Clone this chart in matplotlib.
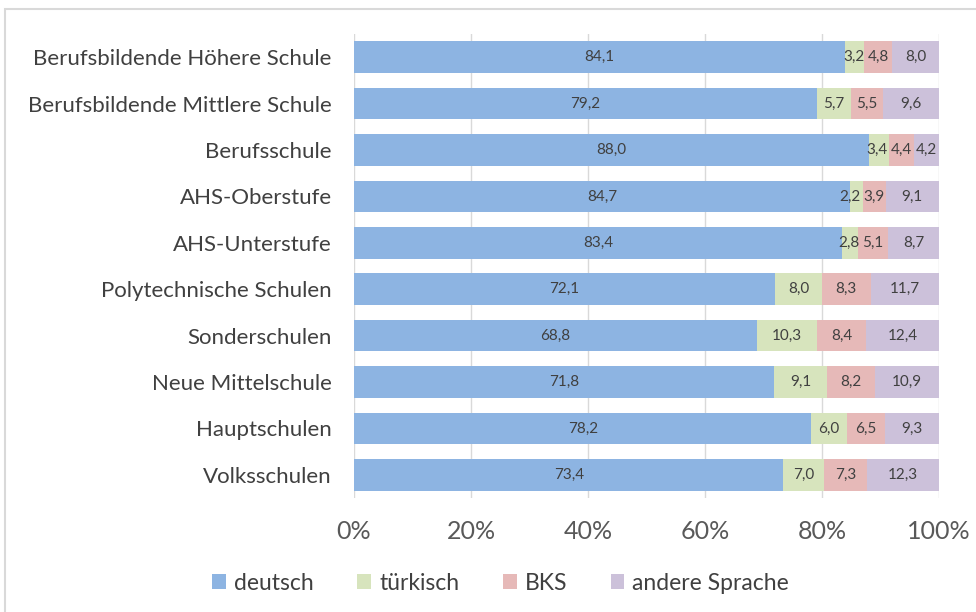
import matplotlib
matplotlib.use("Agg")
import matplotlib.pyplot as plt
from matplotlib.patches import Rectangle
from matplotlib.transforms import offset_copy
import numpy as np

categories = ["Berufsbildende Höhere Schule", "Berufsbildende Mittlere Schule", "Berufsschule",
              "AHS-Oberstufe", "AHS-Unterstufe", "Polytechnische Schulen", "Sonderschulen",
              "Neue Mittelschule", "Hauptschulen", "Volksschulen"]
deutsch = [84.1, 79.2, 88.0, 84.7, 83.4, 72.1, 68.8, 71.8, 78.2, 73.4]
tuerkisch = [3.2, 5.7, 3.4, 2.2, 2.8, 8.0, 10.3, 9.1, 6.0, 7.0]
bks = [4.8, 5.5, 4.4, 3.9, 5.1, 8.3, 8.4, 8.2, 6.5, 7.3]
andere = [8.0, 9.6, 4.2, 9.1, 8.7, 11.7, 12.4, 10.9, 9.3, 12.3]
series_names = ["deutsch", "türkisch", "BKS", "andere Sprache"]
colors = ["#8DB4E2", "#D7E4BD", "#E6B9B8", "#CCC1DA"]

plt.rcParams['font.family'] = ['Lato', 'DejaVu Sans']
fig = plt.figure(figsize=(9.76, 6.12), dpi=100)
fig.patches.append(Rectangle((5/976, -0.1), 1.2, 1 - 9/612 + 0.1, transform=fig.transFigure,
                             fill=False, edgecolor="#D9D9D9", linewidth=1.5))
ax = fig.add_axes([354/976, 1 - 498/612, (939 - 354)/976, (498 - 34)/612])

y = np.arange(len(categories))
data = [deutsch, tuerkisch, bks, andere]
totals = np.sum(data, axis=0)
left = np.zeros(len(categories))
labels = [[] for _ in categories]
for vals, name, c in zip(data, series_names, colors):
    vals = np.array(vals)
    frac = vals / totals * 100
    ax.barh(y, frac, left=left, height=0.68, color=c, label=name, zorder=3)
    for yi, l, w, v in zip(y, left, frac, vals):
        t = ax.text(l + w / 2, yi, f"{v:.1f}".replace(".", ","), ha="center", va="center",
                    fontsize=11, color="#404040", zorder=4)
        labels[yi].append(t)
    left += frac

ax.set_ylim(len(categories) - 0.5, -0.5)
ax.set_xlim(0, 100)
ax.set_yticks(y)
ax.set_yticklabels(categories, fontsize=16, color="#404040")
ax.set_xticks(np.arange(0, 101, 20))
ax.set_xticklabels([f"{t}%" for t in range(0, 101, 20)], fontsize=18, color="#595959")
ax.tick_params(axis="y", length=0, pad=16)
ax.tick_params(axis="x", length=0, pad=16)
ax.grid(axis="x", color="#D9D9D9", linewidth=1, zorder=0)
for s in ax.spines.values():
    s.set_visible(False)

fig.legend(loc="center", bbox_to_anchor=(0.513, 1 - 583/612), ncol=4, frameon=False,
           fontsize=16.5, handlelength=0.6, handleheight=0.6, handletextpad=0.35,
           columnspacing=1.9, labelcolor="#404040")

# nudge overlapping data labels apart (like Excel does)
fig.canvas.draw()
r = fig.canvas.get_renderer()
gap = 3
for row in labels:
    for i in range(len(row) - 1, 0, -1):
        a, b = row[i - 1], row[i]
        ba = a.get_window_extent(r)
        bb = b.get_window_extent(r)
        overlap = ba.x1 + gap - bb.x0
        if overlap > 0:
            a.set_transform(offset_copy(a.get_transform(), fig=fig, x=-overlap, units="dots"))

fig.savefig("out.png", dpi=100)
